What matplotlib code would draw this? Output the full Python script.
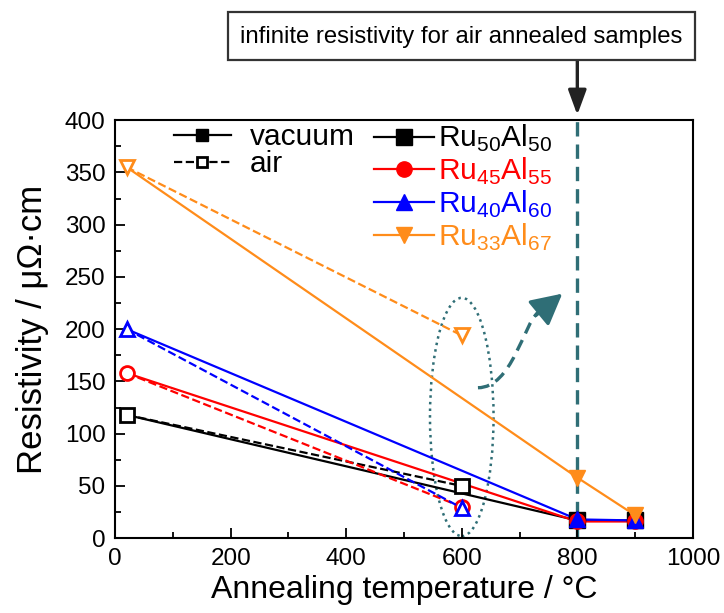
import numpy as np
import matplotlib
matplotlib.use('Agg')
from matplotlib import pyplot as plt
from matplotlib.patches import Ellipse, FancyArrowPatch, Rectangle, PathPatch
from matplotlib.path import Path
from matplotlib.lines import Line2D

plt.rcParams['font.family'] = ['Liberation Sans', 'DejaVu Sans']
plt.rcParams['mathtext.fontset'] = 'custom'
plt.rcParams['mathtext.rm'] = 'Liberation Sans'

# as-deposited (20 C), vacuum annealed (800, 900 C), air annealed (600 C)
names = ['Ru$_{50}$Al$_{50}$', 'Ru$_{45}$Al$_{55}$', 'Ru$_{40}$Al$_{60}$', 'Ru$_{33}$Al$_{67}$']
colors = ['black', 'red', 'blue', '#ff8c1a']
markers = ['s', 'o', '^', 'v']
t_vac = [20, 800, 900]
t_air = [20, 600]
rho_asdep = [118, 158, 200, 355]
rho_vac = [[17, 17], [16, 16], [18, 17], [58, 22]]
rho_air = [50, 30, 29, 194]

teal = '#2f6e76'

fig = plt.figure(figsize=(7.24, 6.13), dpi=100)
ax = fig.add_axes([0.159, 0.122, 0.798, 0.682])

handles = []
for i in range(4):
    yv = [rho_asdep[i]] + rho_vac[i]
    ya = [rho_asdep[i], rho_air[i]]
    ax.plot(t_air, ya, '--', color=colors[i], lw=1.6, marker=markers[i], ms=10,
            mfc='white', mec=colors[i], mew=2, zorder=3)
    ax.plot(t_vac, yv, '-', color=colors[i], lw=1.6, zorder=2)
    ax.plot(t_vac[1:], yv[1:], ls='none', marker=markers[i], ms=11, color=colors[i], zorder=4)
    handles.append(Line2D([], [], color=colors[i], lw=1.6, marker=markers[i], ms=11))

# vertical dashed line at 800 C
ax.axvline(800, color=teal, ls=(0, (4.3, 2.4)), lw=2.4, zorder=1)

# dotted ellipse around the air annealed points
ax.add_patch(Ellipse((600, 116), 110, 228, fill=False, ec=teal, ls=':', lw=1.8, zorder=1))

# curved dashed arrow (S-shaped curve + solid head)
curve = Path([(628, 144), (687, 144), (707, 205), (732, 216)],
             [Path.MOVETO, Path.CURVE4, Path.CURVE4, Path.CURVE4])
ax.add_patch(PathPatch(curve, fill=False, ec=teal, lw=2.4, ls=(0, (3.5, 2.2))))
ax.add_patch(FancyArrowPatch((728, 213), (774, 234), arrowstyle='-|>,head_length=19,head_width=10',
                             color=teal, lw=2.4, mutation_scale=1, shrinkA=0, shrinkB=0))

ax.set_xlim(0, 1000)
ax.set_ylim(0, 400)
ax.set_xticks(np.arange(0, 1001, 200))
ax.set_xticks(np.arange(100, 1000, 200), minor=True)
ax.set_yticks(np.arange(0, 401, 50))
ax.set_yticks(np.arange(25, 400, 50), minor=True)
ax.tick_params(which='both', direction='in', labelsize=17.5, width=1.3, pad=7)
ax.tick_params(which='major', length=7)
ax.tick_params(which='minor', length=4)
for s in ax.spines.values():
    s.set_linewidth(1.5)
ax.set_xlabel('Annealing temperature / °C', fontsize=23, labelpad=4)
ax.set_ylabel('Resistivity / μΩ·cm', fontsize=25, labelpad=11)

leg1 = ax.legend([Line2D([], [], color='black', lw=1.6, marker='s', ms=9),
                  Line2D([], [], color='black', lw=1.6, ls='--', marker='s', ms=7,
                         mfc='white', mew=2)],
                 ['vacuum', 'air'], loc='upper left',
                 bbox_to_anchor=(174 / 724, 1 - 123 / 613), bbox_transform=fig.transFigure,
                 frameon=False, fontsize=21.5, handlelength=1.9, handletextpad=0.65,
                 labelspacing=-0.02, borderaxespad=0, borderpad=0)
ax.add_artist(leg1)
ax.legend(handles, names, loc='upper left',
          bbox_to_anchor=(374 / 724, 1 - 123 / 613), bbox_transform=fig.transFigure,
          frameon=False, fontsize=21.5, handlelength=2.0, handletextpad=0.15,
          labelspacing=0.06, borderaxespad=0, borderpad=0)
for t, c in zip(ax.get_legend().get_texts(), colors):
    t.set_color(c)

# annotation box at the top
fig.patches.append(Rectangle((228 / 724, 1 - 60 / 613), 467 / 724, 48 / 613,
                             transform=fig.transFigure, fc='white', ec='#333333', lw=1.6))
fig.text(461.5 / 724, 1 - 37 / 613, 'infinite resistivity for air annealed samples',
         fontsize=17.2, ha='center', va='center')
ax.annotate('', xy=(800, 405), xycoords='data', xytext=(800, 1 - 60 / 613),
            textcoords=('data', 'figure fraction'),
            arrowprops=dict(arrowstyle='-|>,head_length=1.5,head_width=0.55', color='#222222',
                            lw=2.4, shrinkA=0, shrinkB=0), annotation_clip=False)

fig.savefig('out.png', dpi=100)
